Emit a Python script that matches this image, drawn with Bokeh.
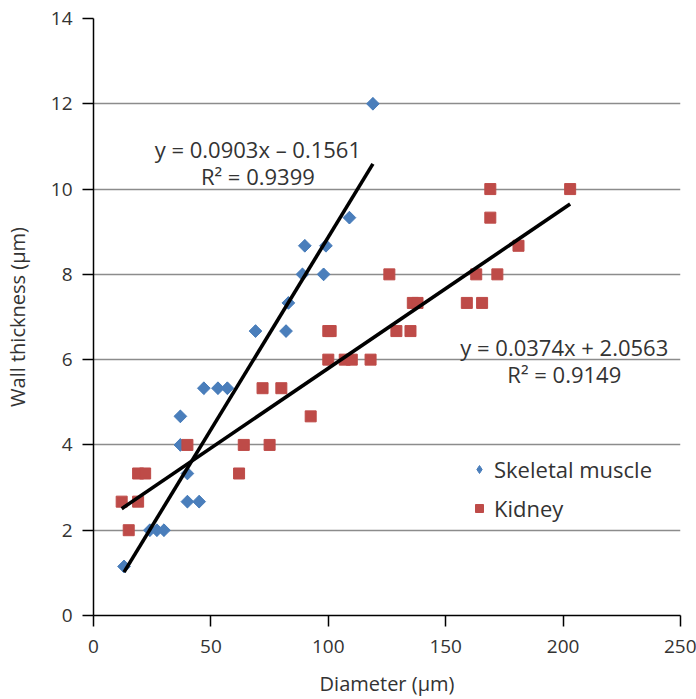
import math
from bokeh.plotting import figure
from bokeh.models import Range1d, Label, Legend, LegendItem, FixedTicker, ColumnDataSource
from bokeh.embed import file_html
from bokeh.resources import INLINE

# Skeletal muscle capillaries: diameter (µm) vs wall thickness (µm)
muscle_diameter = [13, 24, 27, 30, 40, 45, 40, 37, 37, 47, 53, 57,
                   69, 82, 83, 89, 98, 90, 99, 109, 119]
muscle_wall = [1.15, 2.0, 2.0, 2.0, 2.67, 2.67, 3.33, 4.0, 4.67, 5.33, 5.33, 5.33,
               6.67, 6.67, 7.33, 8.0, 8.0, 8.67, 8.67, 9.33, 12.0]

# Kidney capillaries
kidney_diameter = [12, 15, 19, 19, 22, 40, 62, 64, 75, 72, 80, 92.5,
                   100, 100, 101, 107, 110, 118, 126, 129, 135, 136, 138,
                   159, 163, 165.5, 169, 169, 172, 181, 203]
kidney_wall = [2.67, 2.0, 2.67, 3.33, 3.33, 4.0, 3.33, 4.0, 4.0, 5.33, 5.33, 4.67,
               6.0, 6.67, 6.67, 6.0, 6.0, 6.0, 8.0, 6.67, 6.67, 7.33, 7.33,
               7.33, 8.0, 7.33, 9.33, 10.0, 8.0, 8.67, 10.0]

# Linear trendlines (slope, intercept, R²)
muscle_fit = (0.0903, -0.1561, 0.9399)
kidney_fit = (0.0374, 2.0563, 0.9149)

x_ticks = [0, 50, 100, 150, 200, 250]
y_ticks = [0, 2, 4, 6, 8, 10, 12, 14]

FONT = "Open Sans"
BLUE = "#4a7ebb"
RED = "#be4b48"
TEXT = "#333333"

p = figure(width=696, height=699, output_backend="svg", toolbar_location=None,
           x_range=Range1d(0, 250), y_range=Range1d(0, 14),
           min_border_left=92, min_border_right=16, min_border_top=18,
           min_border_bottom=82)
p.outline_line_color = None
p.background_fill_color = "white"
p.border_fill_color = "white"

p.xgrid.grid_line_color = None
p.ygrid.grid_line_color = "#8c8c8c"
p.ygrid.grid_line_width = 1.6
p.ygrid.ticker = FixedTicker(ticks=y_ticks[1:])

for ax, ticks in ((p.xaxis[0], x_ticks), (p.yaxis[0], y_ticks)):
    ax.ticker = FixedTicker(ticks=ticks)
    ax.minor_tick_line_color = None
    ax.major_tick_in = 0
    ax.major_tick_out = 11
    ax.axis_line_color = "black"
    ax.axis_line_width = 1.5
    ax.major_tick_line_color = "black"
    ax.major_tick_line_width = 1.5
    ax.major_label_text_font = FONT
    ax.major_label_text_font_size = "19px"
    ax.major_label_text_color = TEXT
    ax.axis_label_text_font = FONT
    ax.axis_label_text_font_size = "20px"
    ax.axis_label_text_font_style = "normal"
    ax.axis_label_text_color = TEXT

p.xaxis.axis_label = "Diameter (µm)"
p.yaxis.axis_label = "Wall thickness (µm)"
p.xaxis.major_label_standoff = 13
p.yaxis.major_label_standoff = 10
p.xaxis.axis_label_standoff = 14
p.yaxis.axis_label_standoff = 17


def trend(xs, fit):
    lo, hi = min(xs), max(xs)
    return [lo, hi], [fit[0] * lo + fit[1], fit[0] * hi + fit[1]]


mx, my = trend(muscle_diameter, muscle_fit)
kx, ky = trend(kidney_diameter, kidney_fit)

muscle_src = ColumnDataSource(dict(x=muscle_diameter, y=muscle_wall))
kidney_src = ColumnDataSource(dict(x=kidney_diameter, y=kidney_wall))

# narrow diamonds (used for the legend key), covered by squares turned 45 degrees
r_muscle_key = p.scatter("x", "y", source=muscle_src, marker="diamond", size=12,
                         fill_color=BLUE, line_color=BLUE)
r_muscle = p.scatter("x", "y", source=muscle_src, marker="square", size=9,
                     angle=math.pi / 4, fill_color=BLUE, line_color=BLUE)
r_kidney = p.scatter("x", "y", source=kidney_src, marker="square", size=11,
                     fill_color=RED, line_color=RED)

p.line(mx, my, line_color="black", line_width=3.6)
p.line(kx, ky, line_color="black", line_width=3.6)


def eq_text(fit):
    sign = "–" if fit[1] < 0 else "+"
    return (f"y = {fit[0]:.4f}x {sign} {abs(fit[1]):.4f}", f"R² = {fit[2]:.4f}")


for fit, cx, cy in ((muscle_fit, 70, 10.95), (kidney_fit, 200.5, 6.3)):
    l1, l2 = eq_text(fit)
    for txt, yy in ((l1, cy), (l2, cy - 0.64)):
        p.add_layout(Label(x=cx, y=yy, text=txt, text_font=FONT, text_font_size="22px",
                           text_color=TEXT, text_align="center", text_baseline="middle"))

legend = Legend(items=[LegendItem(label="Skeletal muscle", renderers=[r_muscle_key]),
                       LegendItem(label="Kidney", renderers=[r_kidney])],
                location=(376, 92), orientation="vertical",
                padding=0, margin=0, spacing=9,
                label_text_font=FONT, label_text_font_size="22px",
                label_text_color=TEXT, label_standoff=5,
                glyph_width=20, glyph_height=20, label_height=20,
                border_line_color=None, background_fill_alpha=0)
p.add_layout(legend, "center")

open("out.html", "w").write(file_html(p, INLINE))
